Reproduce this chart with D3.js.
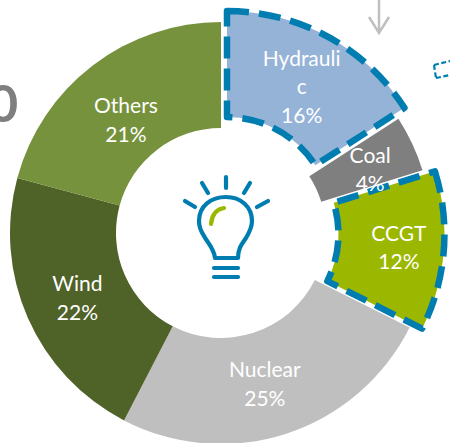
<!DOCTYPE html>
<html><head><meta charset="utf-8">
<script src="https://cdn.jsdelivr.net/npm/d3@7"></script>
<style>html,body{margin:0;padding:0;background:#fff;overflow:hidden}svg{display:block}text{font-family:Lato,"Open Sans",sans-serif}</style>
</head><body><svg id="c" width="450" height="443"></svg>
<script>
const categories=["Hydraulic","Coal","CCGT","Nuclear","Wind","Others"];
const values=[15.9,4.3,12.2,25.2,21.6,20.8];
const labelLines=[["Hydrauli","c"],["Coal"],["CCGT"],["Nuclear"],["Wind"],["Others"]];
const colors=["#95B3D7","#7F7F7F","#9BB700","#BFBFBF","#4F6228","#76923C"];
const highlighted=["Hydraulic","CCGT"];
const labelNudgeX=[-1,6,8,-5,1,1];
const labelNudgeY=[4,4,1,1,2,13];

const W=450,H=443,cx=221,cy=233,R=211,r=105,explode=12.5,lineH=28.5;
const blue="#007DB0";
const svg=d3.select("#c");
const root=svg.append("g").attr("transform",`translate(${cx},${cy})`);
const pie=d3.pie().sort(null).value(d=>d)(values);
const arc=d3.arc().innerRadius(r).outerRadius(R);
const off=(d,i)=>{
  if(!highlighted.includes(categories[i]))return [0,0];
  const a=(d.startAngle+d.endAngle)/2;
  return [explode*Math.sin(a),-explode*Math.cos(a)];
};
const order=pie.map((d,i)=>i).sort((a,b)=>highlighted.includes(categories[a])-highlighted.includes(categories[b]));
root.selectAll("path.s").data(order).join("path").attr("class","s")
  .attr("d",i=>arc(pie[i]))
  .attr("transform",i=>`translate(${off(pie[i],i)})`)
  .attr("fill",i=>colors[i])
  .attr("stroke",i=>highlighted.includes(categories[i])?blue:"none")
  .attr("stroke-width",6.5)
  .attr("stroke-dasharray","22 10")
  .attr("stroke-linejoin","round");
const fmt=d3.format(".0f");
pie.forEach((d,i)=>{
  const [x,y]=arc.centroid(d),[ox,oy]=off(d,i);
  const lines=[...labelLines[i],fmt(values[i])+"%"];
  const t=root.append("text").attr("text-anchor","middle").attr("fill","#fff").attr("font-size",21).attr("font-weight",400);
  lines.forEach((s,k)=>t.append("tspan")
    .attr("x",x+ox+labelNudgeX[i])
    .attr("y",y+oy+labelNudgeY[i]+(k-(lines.length-1)/2)*lineH+7)
    .text(s));
});
// Light bulb icon
const icon=svg.append("g").attr("fill","none").attr("stroke",blue).attr("stroke-width",4.2).attr("stroke-linecap","round").attr("stroke-linejoin","round");
icon.append("path").attr("d","M215 258 C214 248 207 242 204 236 C200 230 199 226 199 221 C199 206 211 197 226 197 C241 197 252 207 252 221 C252 228 249 233 246 238 C242 244 238 248 238 258 Z");
[[214,268,238,268],[214,277,238,277],[226,177,226,188],[202,183,208,193],[250,183,244,193],[185,201,195,207],[268,201,257,207]].forEach(s=>
  icon.append("line").attr("x1",s[0]).attr("y1",s[1]).attr("x2",s[2]).attr("y2",s[3]));
svg.append("path").attr("d","M211 224 C212 214 217 209 224 208").attr("fill","none").attr("stroke","#9BB700").attr("stroke-width",4.2).attr("stroke-linecap","round");
// Fragments from the surrounding slide
svg.append("path").attr("d","M379 0V33M369 17L379 33L389 17").attr("fill","none").attr("stroke","#BFBFBF").attr("stroke-width",2.5);
svg.append("path").attr("d","M434 65L450 61M436 78L450 75M434 65L436 78").attr("fill","none").attr("stroke",blue).attr("stroke-width",2.2).attr("stroke-dasharray","5 2.5");
svg.append("text").attr("x",-12).attr("y",122).attr("font-size",52).attr("font-weight",700).attr("fill","#7F7F7F").text("0");
</script></body></html>
